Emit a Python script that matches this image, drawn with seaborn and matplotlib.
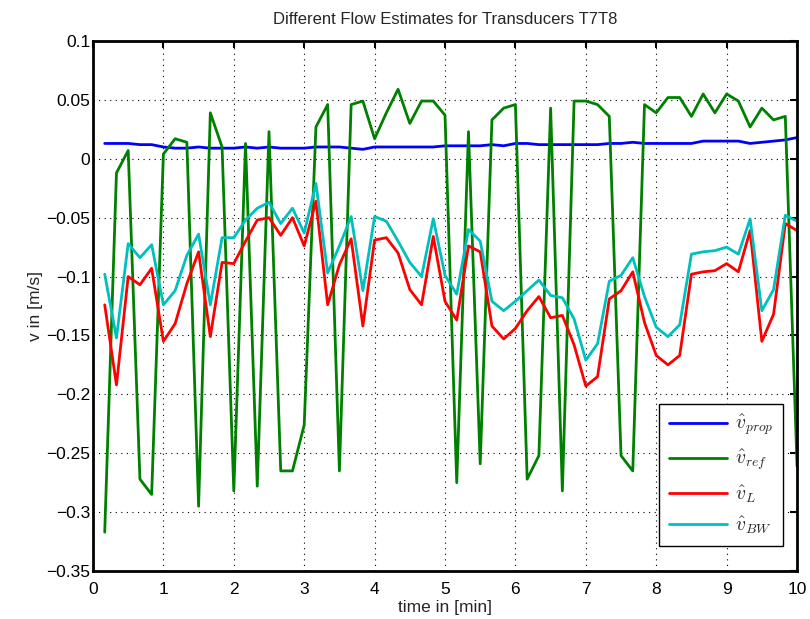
import numpy as np
import pandas as pd
import matplotlib
matplotlib.use("Agg")
import matplotlib.pyplot as plt
import seaborn as sns

# time axis: samples every 10 s (1/6 min)
time_min = [(k + 1) / 6 for k in range(60)]

v_prop = [0.013, 0.013, 0.013, 0.012, 0.012, 0.010, 0.009, 0.009, 0.010, 0.009,
          0.009, 0.009, 0.010, 0.009, 0.010, 0.009, 0.009, 0.009, 0.010, 0.010,
          0.010, 0.009, 0.008, 0.010, 0.010, 0.010, 0.010, 0.010, 0.010, 0.011,
          0.011, 0.011, 0.011, 0.012, 0.011, 0.013, 0.013, 0.012, 0.012, 0.012,
          0.012, 0.012, 0.012, 0.013, 0.013, 0.014, 0.013, 0.013, 0.013, 0.013,
          0.013, 0.015, 0.015, 0.015, 0.015, 0.013, 0.014, 0.015, 0.016, 0.018]

v_ref = [-0.317, -0.012, 0.007, -0.272, -0.285, 0.004, 0.017, 0.014, -0.295, 0.039,
         0.010, -0.282, 0.013, -0.278, 0.023, -0.265, -0.265, -0.226, 0.027, 0.046,
         -0.265, 0.046, 0.049, 0.017, 0.039, 0.059, 0.030, 0.049, 0.049, 0.037,
         -0.275, 0.023, -0.259, 0.033, 0.043, 0.046, -0.272, -0.252, 0.043, -0.282,
         0.049, 0.049, 0.046, 0.036, -0.252, -0.265, 0.046, 0.039, 0.052, 0.052,
         0.036, 0.055, 0.039, 0.055, 0.049, 0.027, 0.043, 0.033, 0.036, -0.261]

v_L = [-0.124, -0.192, -0.100, -0.107, -0.093, -0.155, -0.140, -0.106, -0.079, -0.151,
       -0.088, -0.089, -0.070, -0.052, -0.050, -0.065, -0.050, -0.074, -0.036, -0.124,
       -0.090, -0.068, -0.142, -0.069, -0.067, -0.080, -0.111, -0.124, -0.066, -0.121,
       -0.137, -0.074, -0.079, -0.142, -0.153, -0.144, -0.129, -0.117, -0.135, -0.133,
       -0.158, -0.193, -0.185, -0.119, -0.112, -0.096, -0.139, -0.167, -0.175, -0.167,
       -0.098, -0.096, -0.095, -0.089, -0.096, -0.061, -0.155, -0.132, -0.055, -0.061]

v_BW = [-0.098, -0.152, -0.072, -0.084, -0.073, -0.124, -0.112, -0.082, -0.064, -0.124,
        -0.067, -0.067, -0.052, -0.042, -0.037, -0.055, -0.042, -0.063, -0.021, -0.097,
        -0.074, -0.049, -0.112, -0.049, -0.053, -0.070, -0.088, -0.100, -0.051, -0.099,
        -0.115, -0.060, -0.070, -0.121, -0.129, -0.121, -0.112, -0.103, -0.116, -0.118,
        -0.136, -0.171, -0.157, -0.104, -0.099, -0.084, -0.117, -0.143, -0.151, -0.141,
        -0.081, -0.079, -0.078, -0.075, -0.081, -0.051, -0.129, -0.111, -0.048, -0.053]

labels = [r'$\hat{v}_{prop}$', r'$\hat{v}_{ref}$', r'$\hat{v}_{L}$', r'$\hat{v}_{BW}$']
colors = ['#0000FF', '#008000', '#FF0000', '#00BFBF']

df = pd.concat([
    pd.DataFrame({'t': time_min, 'v': vals, 'series': lab})
    for vals, lab in zip([v_prop, v_ref, v_L, v_BW], labels)
], ignore_index=True)

sns.set_theme(style='white')
plt.rcParams['font.family'] = ['Liberation Sans', 'DejaVu Sans']
plt.rcParams['mathtext.fontset'] = 'cm'

fig = plt.figure(figsize=(8.1, 6.19), dpi=100)
ax = fig.add_axes([0.1148, 0.0775, 0.8692, 0.8563])

sns.lineplot(data=df, x='t', y='v', hue='series', hue_order=labels,
             palette=dict(zip(labels, colors)), linewidth=2.0, ax=ax,
             estimator=None, sort=False)

ax.set_xlim(0, 10)
ax.set_ylim(-0.35, 0.1)
ax.set_xticks(np.arange(0, 11, 1))
ax.set_yticks(np.round(np.arange(-0.35, 0.1001, 0.05), 2))
ax.set_xticklabels([str(i) for i in range(11)])
ax.set_yticklabels(['\u22120.35', '\u22120.3', '\u22120.25', '\u22120.2', '\u22120.15',
                    '\u22120.1', '\u22120.05', '0', '0.05', '0.1'])

ax.grid(True, color='black', linestyle=(0, (1, 4)), linewidth=0.8)
for s in ax.spines.values():
    s.set_visible(True)
    s.set_color('black')
    s.set_linewidth(2.0)
ax.tick_params(direction='in', length=5, width=1.5, top=True, right=True,
               labelsize=12.5, colors='black', pad=2)
ax.tick_params(axis='x', pad=8)

ax.set_xlabel('time in [min]', fontsize=12.5, labelpad=2)
ax.set_ylabel('v in [m/s]', fontsize=12.5, labelpad=2)
ax.set_title('Different Flow Estimates for Transducers T7T8', fontsize=12, pad=12)

leg = ax.legend(loc='lower right', bbox_to_anchor=(0.98, 0.047), fontsize=14,
                frameon=True, fancybox=False, framealpha=1, edgecolor='black',
                handlelength=3.0, handletextpad=0.4, labelspacing=0.5,
                borderpad=0.5, borderaxespad=0)
leg.get_frame().set_linewidth(1.0)
for line in leg.get_lines():
    line.set_linewidth(2.0)

fig.savefig('out.png', dpi=100)
